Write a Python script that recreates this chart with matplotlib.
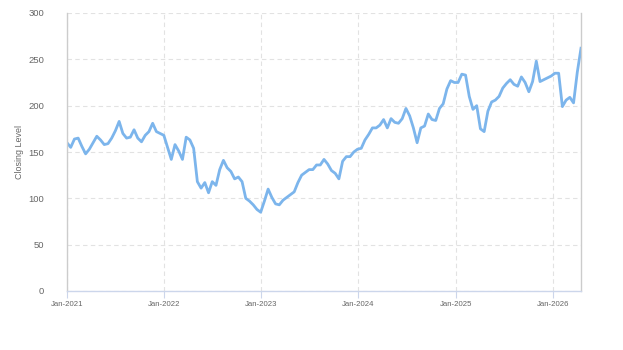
import matplotlib
matplotlib.use("Agg")
import matplotlib.pyplot as plt
import matplotlib.dates as mdates
import pandas as pd

# closing level, every 14 days from Jan 2021
start_date = "2021-01-01"
step_days = 14
levels_2021 = [160, 155, 164, 165, 156, 148, 153, 160, 167, 163, 158, 159, 165,
               173, 183, 170, 165, 166, 174, 165, 161, 168, 172, 181, 172, 170]
levels_2022 = [168, 155, 142, 158, 151, 142, 166, 163, 154, 118, 111, 117, 106,
               118, 114, 131, 141, 133, 129, 121, 123, 118, 100, 97, 93, 88, 85]
levels_2023 = [97, 110, 101, 94, 93, 98, 101, 104, 107, 117, 125, 128, 131,
               131, 136, 136, 142, 137, 130, 127, 121, 140, 145, 145, 150]
levels_2024 = [153, 154, 163, 169, 176, 176, 179, 185, 176, 186, 182, 181, 186,
               197, 189, 176, 160, 176, 178, 191, 185, 184, 197, 202, 218, 227]
levels_2025 = [225, 225, 234, 233, 210, 196, 200, 175, 172, 194, 204, 206, 210,
               219, 224, 228, 223, 221, 231, 225, 215, 226, 248, 226, 228, 230,
               232, 235, 235, 199, 206, 209, 203, 236, 262]

levels = levels_2021 + levels_2022 + levels_2023 + levels_2024 + levels_2025
dates = pd.date_range(start_date, periods=len(levels), freq=f"{step_days}D")

y_ticks = [0, 50, 100, 150, 200, 250, 300]
x_ticks = pd.to_datetime(["2021-01-01", "2022-01-01", "2023-01-01",
                          "2024-01-01", "2025-01-01", "2026-01-01"])

plt.rcParams["font.family"] = ["Liberation Sans", "DejaVu Sans"]

fig = plt.figure(figsize=(6.23, 3.5), dpi=100)
ax = fig.add_axes([67 / 623, 59 / 350, 514 / 623, 278 / 350])

ax.plot(dates, levels, color="#7cb5ec", linewidth=2, solid_joinstyle="round")

ax.set_xlim(dates[0], dates[-1])
ax.set_ylim(0, 300)
ax.set_yticks(y_ticks)
ax.set_xticks(x_ticks)
ax.xaxis.set_major_formatter(mdates.DateFormatter("%b-%Y"))

ax.grid(True, color="#e2e2e2", linestyle=(0, (4, 3)), linewidth=0.8)
ax.set_axisbelow(True)

for side in ["left", "right"]:
    ax.spines[side].set_color("#cccccc")
    ax.spines[side].set_linewidth(1)
ax.spines["top"].set_visible(False)
ax.spines["bottom"].set_color("#ccd6eb")
ax.spines["bottom"].set_linewidth(1)

ax.tick_params(axis="y", length=0, pad=16.5, labelsize=6.8, labelcolor="#666666")
ax.tick_params(axis="x", length=5, color="#ccd6eb", pad=2.5, labelsize=5.6,
               labelcolor="#666666")

ax.set_ylabel("Closing Level", fontsize=6.4, color="#666666", labelpad=3)

fig.savefig("out.png", dpi=100)
